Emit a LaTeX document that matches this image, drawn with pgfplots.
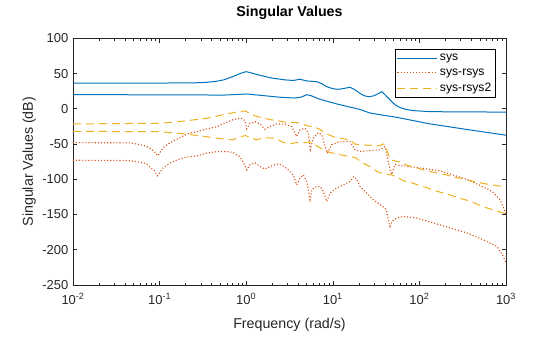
\documentclass[border=0pt]{standalone}
\usepackage{pgfplots}
\pgfplotsset{compat=1.18}
\usepackage{fontspec}
\setmainfont{Liberation Sans}
\definecolor{mblue}{RGB}{0,114,189}
\definecolor{morange}{RGB}{217,83,25}
\definecolor{myellow}{RGB}{237,177,32}
\definecolor{axgray}{RGB}{38,38,38}
\begin{document}
\begin{tikzpicture}
\useasboundingbox (-73bp,-52bp) rectangle (487bp,285bp);
\begin{axis}[
  scale only axis, width=433bp, height=246.7bp,
  at={(0,0)}, anchor=south west,
  xmode=log, xmin=1e-2, xmax=1e3, ymin=-250, ymax=100,
  xtick={1e-2,1e-1,1,10,100,1000},
  xticklabels={10\textsuperscript{-2},10\textsuperscript{-1},10\textsuperscript{0},10\textsuperscript{1},10\textsuperscript{2},10\textsuperscript{3}},
  minor xtick={0.02,0.03,0.04,0.05,0.06,0.07,0.08,0.09,0.2,0.3,0.4,0.5,0.6,0.7,0.8,0.9,2,3,4,5,6,7,8,9,20,30,40,50,60,70,80,90,200,300,400,500,600,700,800,900},
  ytick={-250,-200,-150,-100,-50,0,50,100},
  yticklabels={-250,-200,-150,-100,-50,0,50,100},
  tick align=inside,
  major tick length=4.3bp, minor tick length=2.3bp,
  every tick/.style={axgray, line width=0.6bp},
  axis line style={axgray, line width=0.65bp},
  ticklabel style={font=\fontsize{13}{15}\selectfont, text=axgray},
  xticklabel style={anchor=base, yshift=-19bp},
  yticklabel style={inner sep=4.5bp},
  title={\bfseries Singular Values},
  title style={at={(axis description cs:0.5,1.066)}, anchor=base, font=\fontsize{14.3}{16}\selectfont, text=black},
  xlabel={Frequency (rad/s)},
  xlabel style={at={(axis description cs:0.5,-0.1743)}, anchor=base, font=\fontsize{14.3}{16}\selectfont, text=axgray},
  ylabel={Singular Values (dB)},
  ylabel style={at={(axis description cs:-0.0924,0.5)}, anchor=base, rotate=0, font=\fontsize{14.3}{16}\selectfont, text=axgray},
  legend style={at={(axis description cs:1,1)}, anchor=north east, xshift=-11bp, yshift=-11bp,
    font=\fontsize{12.2}{14}\selectfont,
    inner xsep=1.5bp, inner ysep=2.5bp, row sep=2.5bp,
    legend cell align=left},
  legend image code/.code={\draw[#1] (0bp,0bp) -- (40bp,0bp);},
]
% sys
\addplot[color=mblue, line width=1bp] coordinates {(0.01,36.5)(0.05,36.5)(0.15,36.6)(0.25,36.8)(0.35,37.6)(0.45,39)(0.55,41)(0.7,45.6)(0.85,50)(1.0,52.7)(1.15,50.8)(1.44,47.5)(2,43.5)(2.8,41)(3.5,40.2)(4.18,41.9)(5,39.5)(6.5,38.5)(7.5,35.5)(8.5,31.4)(10,28.5)(11.5,27.6)(13,28.5)(15.8,30.6)(18,27)(20.6,22)(23,18.5)(26,17.2)(29.4,18.2)(33,21)(36.7,24.3)(40,20)(45.7,12.6)(52,6)(59.7,1.7)(70,-0.8)(84,-2.6)(132,-4)(300,-4.5)(1000,-4.6)};
\addlegendentry{sys}
\addplot[color=mblue, line width=1bp, forget plot] coordinates {(0.01,20)(0.3,19.8)(0.5,19.2)(0.75,20.2)(1,21)(1.44,19.2)(2.45,16.4)(3.6,15.3)(4.3,16.5)(5,20)(5.6,18.6)(7.1,13.5)(9,10)(11.1,6.9)(15.8,2.4)(20,-0.5)(26.9,-6)(40,-9.5)(54,-12)(132,-21.4)(318,-28.5)(1000,-37.5)};
% sys-rsys
\addplot[color=morange, line width=1.1bp, dash pattern=on 1.1bp off 2bp] coordinates {(0.01,-48)(0.045,-48.3)(0.055,-50)(0.07,-53)(0.08,-57)(0.089,-62)(0.0947,-66.8)(0.1,-63)(0.11,-55)(0.132,-48)(0.16,-43)(0.196,-37.5)(0.224,-34.5)(0.27,-32.5)(0.35,-28.5)(0.46,-25.5)(0.526,-22)(0.6,-19)(0.705,-15.5)(0.85,-13.4)(0.92,-14)(0.97,-18)(1.014,-28.5)(1.107,-20.5)(1.264,-18.2)(1.443,-21.4)(1.648,-29)(1.882,-25.3)(2.25,-21.4)(2.81,-21.9)(3.35,-25.3)(3.83,-39.4)(4.18,-30)(4.77,-27.5)(5.21,-34.6)(5.5,-58)(5.96,-41.7)(6.8,-33.8)(7.45,-37)(8.64,-63)(9.71,-51)(12.1,-46.5)(15.8,-46.5)(18,-58)(20.6,-60.7)(26.9,-59.3)(35.1,-58.3)(40.1,-53.6)(43.7,-74.8)(46.6,-89)(48,-93)(52.3,-79)(65,-81)(101,-84)(173,-88)(352,-100)(598,-113)(700,-118)(853,-129)(950,-142)(1000,-150)};
\addlegendentry{sys-rsys}
\addplot[color=morange, line width=1.1bp, dash pattern=on 1.1bp off 2bp, forget plot] coordinates {(0.01,-73)(0.045,-73.5)(0.055,-75)(0.07,-77.5)(0.078,-83)(0.089,-89)(0.094,-95)(0.1,-91)(0.11,-84)(0.132,-77)(0.159,-72.5)(0.2,-68.7)(0.27,-66.8)(0.35,-63)(0.46,-60.7)(0.6,-60.7)(0.705,-62)(0.848,-68)(0.918,-75)(1.014,-86.6)(1.107,-79.5)(1.264,-76.3)(1.443,-82)(1.648,-85.6)(1.882,-82)(2.25,-78.5)(2.57,-79.5)(3.06,-86.6)(3.5,-93.7)(3.83,-108)(4.18,-98.4)(4.56,-93.7)(5.0,-103)(5.46,-129)(5.71,-115)(6.23,-111)(7.12,-110)(7.77,-117)(8.5,-131.5)(9.28,-119.6)(11.1,-112.5)(13.2,-108)(15.8,-103)(17.5,-96)(18.9,-100)(20.6,-110)(24.6,-119.6)(29.4,-129)(35.1,-136)(40.1,-141)(41.9,-146)(45.7,-169)(48,-160)(54.7,-155)(65.2,-152.8)(93,-155)(145,-162)(226,-169)(352,-176)(547,-186)(781,-195)(931,-209.5)(1000,-219)};
% sys-rsys2
\addplot[color=myellow, line width=1bp, dash pattern=on 8bp off 5bp] coordinates {(0.01,-21.5)(0.1,-20.5)(0.16,-18.5)(0.22,-16.5)(0.35,-13.5)(0.53,-8.7)(0.78,-4.5)(0.97,-3)(1.26,-10)(1.9,-15.5)(2.25,-16.5)(2.8,-19)(3.5,-19.5)(4.2,-20)(5.0,-24)(6.0,-25.5)(7.1,-29)(8.5,-36)(10.6,-40.3)(12.1,-41.7)(15.8,-44)(18,-50)(20.6,-51)(35,-52.5)(38,-50)(40,-51)(44,-65)(46.6,-72)(52,-74)(60,-75.5)(72,-80)(82,-82)(101,-85)(122,-88)(160,-91)(208,-94)(244,-96.5)(294,-98.5)(384,-102)(451,-103.5)(547,-106)(781,-109)(1000,-111)};
\addlegendentry{sys-rsys2}
\addplot[color=myellow, line width=1bp, dash pattern=on 8bp off 5bp, forget plot] coordinates {(0.01,-32)(0.1,-32.5)(0.13,-33.8)(0.18,-35.2)(0.24,-37)(0.38,-40.3)(0.55,-43)(0.7,-44)(0.85,-40)(0.97,-38)(1.15,-41)(1.3,-44)(1.65,-41)(2.2,-42)(2.6,-47)(3.1,-50)(3.8,-48)(4.8,-48)(5.5,-47)(6.8,-54)(7.8,-58)(9.3,-62)(12.1,-65)(15.8,-68)(18,-69)(22.3,-77)(26.9,-82)(32.4,-89)(38,-92)(48,-94)(55,-97)(65,-102)(82,-105)(101,-109)(122,-112)(160,-117)(208,-121)(294,-127)(384,-131)(547,-139)(781,-145)(1000,-149)};
\end{axis}
\end{tikzpicture}
\end{document}
